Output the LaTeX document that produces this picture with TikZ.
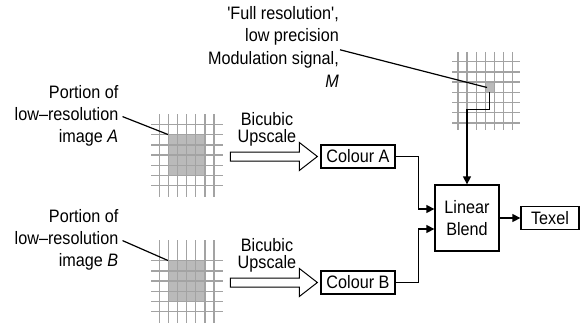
\documentclass[tikz,border=0pt]{standalone}
\usepackage{fontspec}
\newfontfamily\lblfont[FakeStretch=0.9]{Liberation Sans}
\usetikzlibrary{arrows.meta}

\begin{document}
\begin{tikzpicture}[x=1pt, y=-1pt,
    box/.style={draw, line width=1.3pt, inner sep=0pt, align=center,
        font=\lblfont\fontsize{18}{22}\selectfont},
    lbl/.style={inner sep=0pt, align=right, font=\lblfont\fontsize{18}{22}\selectfont},
    opname/.style={inner sep=0pt, align=center, font=\lblfont\fontsize{18}{17.6}\selectfont},
    wire/.style={line width=1.3pt, -{Triangle[length=8pt,width=8pt]}},
    leader/.style={line width=1.2pt},
    gridline/.style={draw=black!36, line width=1.4pt},
    cellfill/.style={fill=black!27},
    fatarrow/.style={draw, line width=1pt, fill=white}
]
\useasboundingbox (0,0) rectangle (588,326);

% image A
\fill[cellfill] (168.4,134.7) rectangle (204.8,175.5);
\foreach \i in {0,...,6} \draw[gridline] ({159.3+9.1*\i},114) -- ({159.3+9.1*\i},197);
\foreach \j in {0,...,6} \draw[gridline] (151,{124.5+10.2*\j}) -- (223,{124.5+10.2*\j});
\coordinate (gA) at (168,134.5);

% image B
\fill[cellfill] (168.4,260.7) rectangle (204.8,301.5);
\foreach \i in {0,...,6} \draw[gridline] ({159.3+9.1*\i},240) -- ({159.3+9.1*\i},323);
\foreach \j in {1,...,6} \draw[gridline] (151,{250.5+10.2*\j}) -- (223,{250.5+10.2*\j});
\coordinate (gB) at (168,260.5);

% modulation signal M
\fill[cellfill] (485.3,82.1) rectangle (494.4,92.3);
\foreach \i in {0,...,6} \draw[gridline] ({458+9.1*\i},52) -- ({458+9.1*\i},130);
\foreach \j in {0,...,6} \draw[gridline] (452,{61.7+10.2*\j}) -- (520,{61.7+10.2*\j});
\coordinate (mIn) at (487,87.5);
\coordinate (mOut) at (489.8,92.3);

% labels
\node[lbl, anchor=north east] (lblA) at (118.5,85) {Portion of\\low–resolution\\image \textit{A}};
\node[lbl, anchor=north east] (lblB) at (118.5,209) {Portion of\\low–resolution\\image \textit{B}};
\node[lbl, anchor=north east, font=\lblfont\fontsize{18}{22.7}\selectfont] (lblM) at (339,6)
    {'Full resolution',\\low precision\\Modulation signal,\\\textit{M}};

% blocks
\node[box, minimum width=74pt, minimum height=23pt] (colA) at (358,156.5) {Colour A};
\node[box, minimum width=74pt, minimum height=23pt] (colB) at (358,282.5) {Colour B};
\node[box, minimum width=64pt, minimum height=66pt] (blend) at (467,218) {Linear\\Blend};
\node[box, minimum width=58pt, minimum height=23pt] (texel) at (550,218) {Texel};

\node[opname, anchor=north] (upA) at (267,112) {Bicubic\\Upscale};
\node[opname, anchor=north] (upB) at (267,238) {Bicubic\\Upscale};

% upscale arrows
\foreach \c in {colA,colB} {
  \begin{scope}[shift={(\c.west)}]
    \draw[fatarrow] (-90,-4.5) -- (-21,-4.5) -- (-21,-14) -- (-3,0)
        -- (-21,14) -- (-21,4.5) -- (-90,4.5) -- cycle;
  \end{scope}
}

% leaders
\draw[leader] ([xshift=4pt,yshift=-1pt]lblA.east) -- (gA);
\draw[leader] ([xshift=4pt,yshift=-1pt]lblB.east) -- (gB);
\draw[leader] ([xshift=1pt,yshift=-3pt]lblM.east) -- (mIn);

% connections
\draw[wire] (mOut) -- ++(0,17) -| (blend.north);
\draw[wire] (colA.east) -- ++(23,0) |- ([yshift=9pt]blend.west);
\draw[wire] (colB.east) -- ++(23,0) |- ([yshift=-11pt]blend.west);
\draw[wire] (blend.east) -- (texel.west);

\end{tikzpicture}
\end{document}
